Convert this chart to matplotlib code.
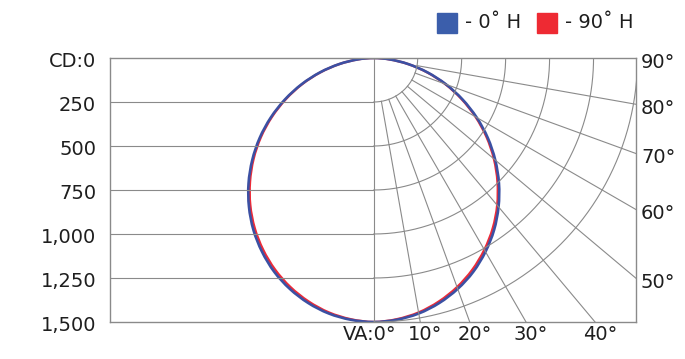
import numpy as np
import matplotlib.pyplot as plt
from matplotlib.patches import Rectangle, PathPatch
from matplotlib.path import Path

# candela distribution (vertical angle 0..90 deg)
angles = [0, 5, 10, 15, 20, 25, 30, 35, 40, 45, 50, 55, 60, 65, 70, 75, 80, 85, 90]
cd_0h = [1500, 1493, 1474, 1441, 1396, 1340, 1271, 1193, 1104, 1007, 902, 792, 676, 557, 437, 317, 200, 91, 0]
cd_90h = [1500, 1490, 1468, 1432, 1385, 1327, 1258, 1180, 1092, 995, 892, 783, 668, 550, 432, 313, 198, 90, 0]

cd_levels = [0, 250, 500, 750, 1000, 1250, 1500]
cd_labels = ['CD:0', '250', '500', '750', '1,000', '1,250', '1,500']
ray_angles = [10, 20, 30, 40, 50, 60, 70, 80]
bottom_labels = [10, 20, 30, 40]
side_labels = [50, 60, 70, 80, 90]

blue = '#3b50a3'
red = '#ec2b38'
grid = '#8a8a8a'
txt = '#1e1e1e'

W, H = 685, 359
fig = plt.figure(figsize=(W / 100, H / 100), dpi=100)
ax = fig.add_axes([110 / W, 37 / H, 526 / W, 264 / H])

px = 250 / 44.0          # candela per pixel
xmax = 262.5 * px
ax.set_xlim(-1500, xmax)
ax.set_ylim(1500, 0)
ax.set_xticks([])
ax.set_yticks([])
for s in ax.spines.values():
    s.set_color(grid)
    s.set_linewidth(1.0)

# grid: horizontal lines on the left, arcs and rays on the right
ax.hlines(cd_levels[1:-1], -1500, 0, color=grid, lw=0.8)
ax.vlines(0, 0, 1500, color=grid, lw=0.8)
t = np.radians(np.linspace(0, 90, 200))
for r in cd_levels[1:]:
    ax.plot(r * np.sin(t), r * np.cos(t), color=grid, lw=0.8)
for a in ray_angles:
    ar = np.radians(a)
    ax.plot([250 * np.sin(ar), 4000 * np.sin(ar)], [250 * np.cos(ar), 4000 * np.cos(ar)], color=grid, lw=0.8)


# curves, mirrored to both sides, drawn as a smooth closed bezier through the points
def curve_path(vals):
    th = np.radians(np.array(angles))
    v = np.array(vals, dtype=float)
    x = np.concatenate([-(v * np.sin(th))[::-1], (v * np.sin(th))[1:-1]])
    y = np.concatenate([(v * np.cos(th))[::-1], (v * np.cos(th))[1:-1]])
    p = np.column_stack([x, y])
    n = len(p)
    verts = [p[0]]
    codes = [Path.MOVETO]
    for i in range(n):
        p0, p1, p2, p3 = p[i - 1], p[i], p[(i + 1) % n], p[(i + 2) % n]
        verts += [p1 + (p2 - p0) / 6, p2 - (p3 - p1) / 6, p2]
        codes += [Path.CURVE4] * 3
    return Path(verts, codes)


ax.add_patch(PathPatch(curve_path(cd_90h), fill=False, edgecolor=red, lw=1.7))
ax.add_patch(PathPatch(curve_path(cd_0h), fill=False, edgecolor=blue, lw=1.9))

fs = 14
# left candela labels
for lev, lab in zip(cd_levels, cd_labels):
    ax.text(-1500 - 14 * px, lev + 3.5 * px, lab, ha='right', va='center', fontsize=fs, color=txt)

# bottom angle labels
ax.text(23 * px, 1500 + 13 * px, 'VA:0°', ha='right', va='center', fontsize=fs, color=txt)
for a in bottom_labels:
    ax.text(1500 * np.tan(np.radians(a)) + 5 * px, 1500 + 13 * px, f'{a}°',
            ha='center', va='center', fontsize=fs, color=txt)

# right side angle labels
for a in side_labels:
    yy = xmax / np.tan(np.radians(a))
    ax.text(xmax + 5 * px, yy + 4 * px, f'{a}°', ha='left', va='center', fontsize=fs, color=txt)

# legend
fig.add_artist(Rectangle((437 / W, 1 - 33 / H), 20 / W, 20 / H, transform=fig.transFigure, color='#3b5eab'))
fig.text(465 / W, 1 - 23 / H, '- 0˚ H', ha='left', va='center', fontsize=fs, color=txt)
fig.add_artist(Rectangle((537 / W, 1 - 33 / H), 20 / W, 20 / H, transform=fig.transFigure, color='#ee2a33'))
fig.text(565 / W, 1 - 23 / H, '- 90˚ H', ha='left', va='center', fontsize=fs, color=txt)

fig.savefig('out.png', dpi=100)
